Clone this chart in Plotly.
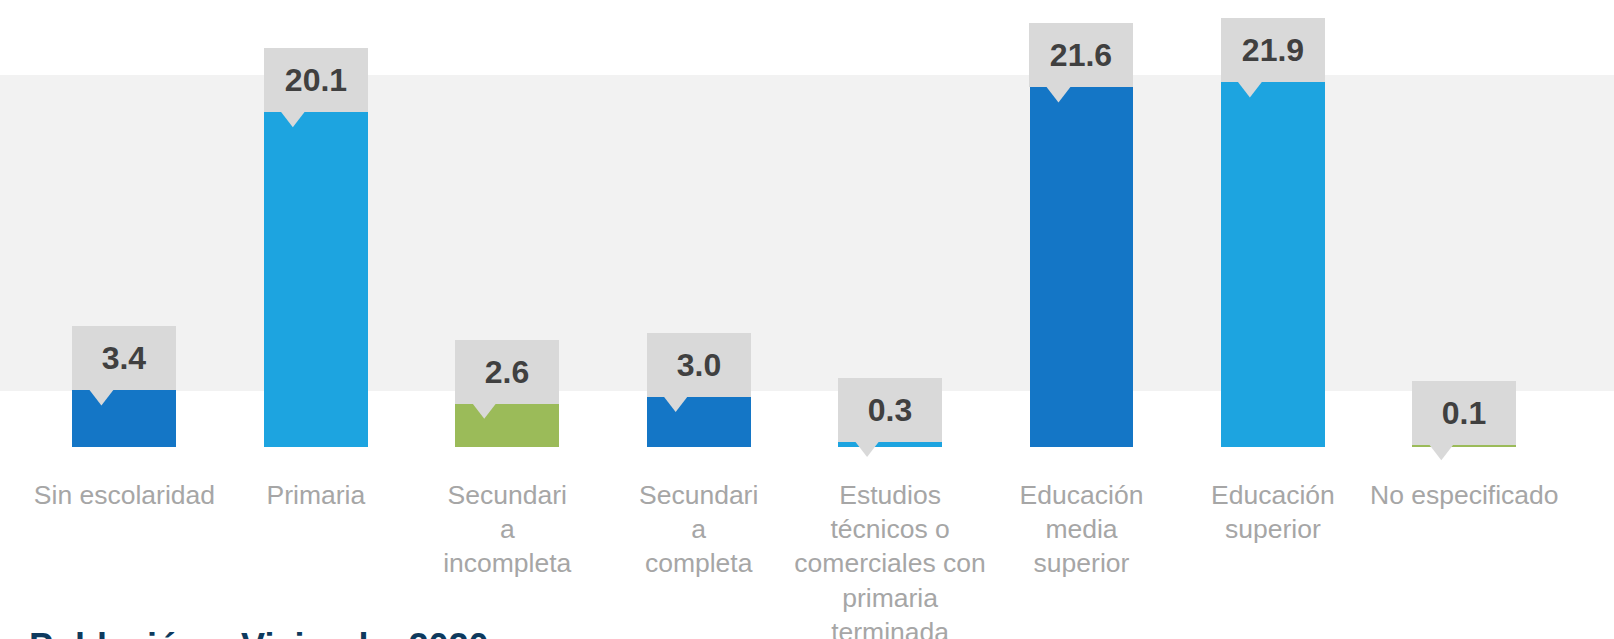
import numpy as np
import plotly.graph_objects as go

categories = [
    "Sin escolaridad",
    "Primaria",
    "Secundari<br>a<br>incompleta",
    "Secundari<br>a<br>completa",
    "Estudios<br>técnicos o<br>comerciales con<br>primaria<br>terminada",
    "Educación<br>media<br>superior",
    "Educación<br>superior",
    "No especificado",
]
values = [3.4, 20.1, 2.6, 3.0, 0.3, 21.6, 21.9, 0.1]
value_labels = [f"{v:.1f}" for v in values]
footer_text = "e Población y Vivienda, 2020"

DARK = "#1476c6"
LIGHT = "#1da4e0"
GREEN = "#9bbb59"
bar_colors = [DARK, LIGHT, GREEN, DARK, LIGHT, DARK, LIGHT, GREEN]

BOX = "#d9d9d9"
BAND = "#f2f2f2"
FONT = "Arial, Liberation Sans, sans-serif"

W, H = 1614, 639
PLOT_BOTTOM_MARGIN = 192
x = np.arange(len(categories))
x_range = [-0.650, 7.782]
px_per_cat = W / (x_range[1] - x_range[0])
bar_w = 0.543
box_w_px = bar_w * px_per_cat
tri_offset = -23 / px_per_cat

fig = go.Figure()

fig.add_trace(go.Bar(
    x=x, y=values, width=bar_w,
    marker=dict(color=bar_colors, line=dict(width=0)),
    hoverinfo="skip", showlegend=False,
))

fig.add_trace(go.Scatter(
    x=x + tri_offset, y=values, mode="markers",
    marker=dict(symbol="triangle-down", size=30, color=BOX, line=dict(width=0)),
    hoverinfo="skip", showlegend=False, cliponaxis=False,
))

for xi, v, lab in zip(x, values, value_labels):
    fig.add_annotation(
        x=xi, y=v, xref="x", yref="y",
        text=f"<b>{lab}</b>", showarrow=False,
        xanchor="center", yanchor="bottom",
        width=box_w_px, height=64, bgcolor=BOX,
        borderpad=0, borderwidth=0, valign="middle",
        font=dict(family=FONT, size=32, color="#404040"),
    )

plot_h = H - PLOT_BOTTOM_MARGIN
fig.add_shape(
    type="rect", xref="paper", yref="paper",
    x0=0, x1=1, y0=(plot_h - 391) / plot_h, y1=(plot_h - 75) / plot_h,
    fillcolor=BAND, line=dict(width=0), layer="below",
)

fig.add_annotation(
    x=0, y=(plot_h - 646) / plot_h, xref="paper", yref="paper",
    text=f"<b>{footer_text}</b>", showarrow=False,
    xanchor="left", yanchor="middle", xshift=-3,
    font=dict(family=FONT, size=36, color="#0e3a5e"),
)

fig.update_layout(
    width=W, height=H,
    margin=dict(l=0, r=0, t=0, b=PLOT_BOTTOM_MARGIN, autoexpand=False),
    paper_bgcolor="white", plot_bgcolor="rgba(0,0,0,0)",
    bargap=0,
    xaxis=dict(
        range=x_range, tickvals=x, ticktext=categories,
        showgrid=False, zeroline=False, showline=False, ticks="",
        tickfont=dict(family=FONT, size=26.5, color="#a6a6a6"),
        ticklabelstandoff=29, automargin=False,
    ),
    yaxis=dict(visible=False, range=[0, 26.85], automargin=False),
)

fig.write_html(
    "out.html",
    config={"displayModeBar": False},
    post_script="document.body.style.margin='0';document.body.style.overflow='hidden';",
)
